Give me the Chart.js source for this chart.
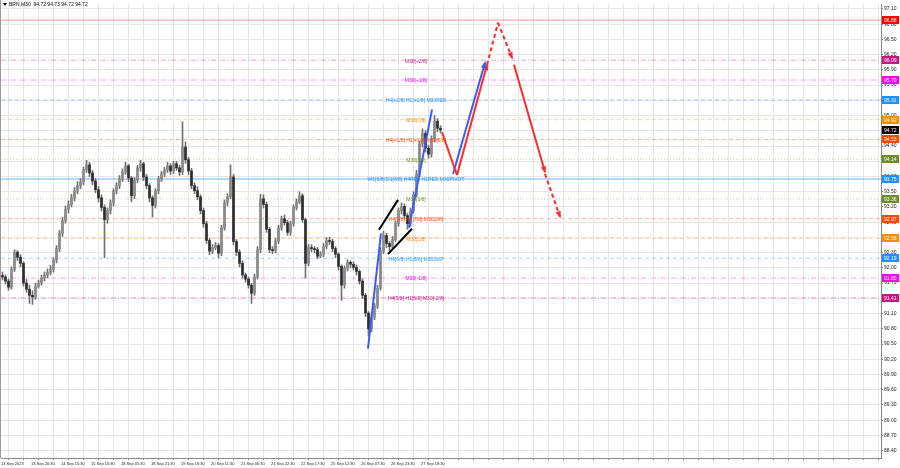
<!DOCTYPE html>
<html><head><meta charset="utf-8">
<script src="https://cdn.jsdelivr.net/npm/chart.js@4.4.0/dist/chart.umd.min.js"></script>
<style>html,body{margin:0;padding:0;background:#fff}canvas{display:block}</style>
</head><body>
<canvas id="c" width="900" height="468"></canvas>
<script>
// === Data (BRN M30, one candle = one slot on the x scale) ===
const opens=[91.85,91.82,91.74,91.62,91.97,92.31,92.21,92.09,91.70,91.58,
 91.46,91.43,91.64,91.70,91.80,91.86,91.91,91.97,92.15,92.38,
 92.68,92.93,93.15,93.25,93.38,93.52,93.62,93.69,93.93,94.03,
 93.87,93.71,93.54,93.38,93.19,92.95,93.13,93.28,93.52,93.62,
 93.75,93.89,94.01,93.77,93.42,93.73,93.97,94.05,93.79,93.62,
 93.38,93.23,93.52,93.75,93.85,93.93,94.01,93.91,94.05,93.97,
 93.89,94.38,94.13,93.91,93.62,93.52,93.40,93.13,92.87,92.54,
 92.33,92.40,92.44,92.29,92.79,93.28,93.40,93.79,92.52,92.31,
 92.09,91.86,91.78,91.66,91.50,91.82,92.36,93.36,93.25,92.76,
 92.36,92.34,92.52,92.79,92.97,92.89,92.70,92.87,93.19,93.30,
 93.42,92.95,92.09,92.40,92.38,92.36,92.23,92.27,92.42,92.54,
 92.52,92.38,92.27,92.03,91.66,91.99,92.11,92.07,92.01,91.93,
 91.74,91.46,91.11,90.80,91.03,91.25,91.60,92.33,92.64,92.48,
 92.42,92.56,92.87,93.13,93.21,93.03,92.87,93.13,93.44,93.85,
 94.44,94.65,94.36,94.24,94.54,94.89,94.75];
const highs=[91.92,91.86,91.78,92.02,92.36,92.34,92.26,92.12,91.78,91.66,
 91.55,91.70,91.76,91.86,91.92,91.98,92.05,92.20,92.44,92.74,
 93.00,93.22,93.32,93.45,93.58,93.70,93.76,93.98,94.12,94.08,
 93.92,93.76,93.60,93.44,93.24,93.18,93.34,93.56,93.68,93.82,
 93.95,94.08,94.04,93.80,93.78,94.02,94.12,94.08,93.84,93.66,
 93.42,93.56,93.80,93.90,93.98,94.08,94.05,94.10,94.10,94.02,
 94.88,94.48,94.18,93.96,93.68,93.60,93.44,93.18,92.92,92.58,
 92.46,92.50,92.48,92.84,93.34,93.46,94.03,93.84,92.56,92.36,
 92.14,91.90,91.82,91.70,91.88,92.42,93.45,93.44,93.30,92.80,
 92.42,92.58,92.84,93.02,93.04,92.94,92.92,93.24,93.36,93.50,
 93.46,92.98,92.46,92.46,92.42,92.40,92.32,92.48,92.60,92.60,
 92.56,92.42,92.30,92.06,92.04,92.16,92.14,92.12,92.06,91.96,
 91.78,91.50,91.14,91.08,91.30,91.66,92.40,92.72,92.68,92.52,
 92.62,92.92,93.18,93.28,93.26,93.08,93.18,93.50,93.92,94.50,
 94.74,94.70,94.42,94.60,95.00,94.94,94.80];
const lows=[91.76,91.68,91.56,91.58,91.93,92.14,92.02,91.64,91.52,91.30,
 91.28,91.38,91.60,91.66,91.74,91.80,91.86,91.92,92.10,92.32,
 92.62,92.88,93.08,93.20,93.32,93.46,93.56,93.64,93.88,93.80,
 93.64,93.48,93.30,93.12,92.20,92.88,93.06,93.22,93.46,93.56,
 93.70,93.84,93.70,93.30,93.36,93.68,93.90,93.72,93.56,93.30,
 93.00,93.18,93.46,93.70,93.80,93.88,93.84,93.86,93.92,93.82,
 93.84,94.06,93.84,93.56,93.46,93.34,93.06,92.80,92.48,92.26,
 92.28,92.36,92.20,92.24,92.74,93.22,93.36,92.46,92.24,92.02,
 91.80,91.72,91.60,91.30,91.46,91.78,92.30,93.18,92.70,92.30,
 92.28,92.30,92.48,92.74,92.84,92.64,92.64,92.82,93.14,93.26,
 92.90,91.80,92.04,92.32,92.30,92.18,92.20,92.22,92.38,92.46,
 92.32,92.20,91.96,91.36,91.60,91.94,92.00,91.96,91.86,91.68,
 91.40,91.04,90.66,90.74,90.98,91.20,91.56,92.28,92.40,92.34,
 92.38,92.52,92.82,93.06,92.96,92.76,92.82,93.08,93.40,93.80,
 94.38,94.28,94.16,94.18,94.48,94.68,94.66];
const closes=[91.82,91.74,91.62,91.97,92.31,92.21,92.09,91.70,91.58,91.46,
 91.43,91.64,91.70,91.80,91.86,91.91,91.97,92.15,92.38,92.68,
 92.93,93.15,93.25,93.38,93.52,93.62,93.69,93.93,94.03,93.87,
 93.71,93.54,93.38,93.19,92.95,93.13,93.28,93.52,93.62,93.75,
 93.89,94.01,93.77,93.42,93.73,93.97,94.05,93.79,93.62,93.38,
 93.23,93.52,93.75,93.85,93.93,94.01,93.91,94.05,93.97,93.89,
 94.38,94.13,93.91,93.62,93.52,93.40,93.13,92.87,92.54,92.33,
 92.40,92.44,92.29,92.79,93.28,93.40,93.79,92.52,92.31,92.09,
 91.86,91.78,91.66,91.50,91.82,92.36,93.36,93.25,92.76,92.36,
 92.34,92.52,92.79,92.97,92.89,92.70,92.87,93.19,93.30,93.42,
 92.95,92.09,92.40,92.38,92.36,92.23,92.27,92.42,92.54,92.52,
 92.38,92.27,92.03,91.66,91.99,92.11,92.07,92.01,91.93,91.74,
 91.46,91.11,90.80,91.03,91.25,91.60,92.33,92.64,92.48,92.42,
 92.56,92.87,93.13,93.21,93.03,92.87,93.13,93.44,93.85,94.44,
 94.65,94.36,94.24,94.54,94.89,94.75,94.72];

const dateLabels=['13 Sep 2023','13 Sep 20:30','14 Sep 15:30','15 Sep 10:30','18 Sep 05:30','18 Sep 21:30','19 Sep 16:30',
 '20 Sep 11:30','21 Sep 06:30','21 Sep 22:30','22 Sep 17:30','25 Sep 12:30','26 Sep 07:30','26 Sep 23:30','27 Sep 18:30'];
const dateTickPos=[0,10,20,30,40,50,60,70,80,90,100,110,120,130,140];
const priceTicks=[88.40,88.70,89.00,89.30,89.60,89.90,90.20,90.50,90.80,91.10,91.40,91.70,92.00,92.30,92.60,92.90,
 93.20,93.50,93.80,94.10,94.40,94.70,95.00,95.30,95.60,95.90,96.20,96.50,96.80,97.10];

// Murrey math levels
const levelPrices=[96.88,96.09,95.70,95.31,94.92,94.53,94.14,93.75,93.36,92.97,92.58,92.19,91.80,91.41];
const levelNames=['','M30[+2/8]','M30[+1/8]','H4[+2/8] H1[+2/8] M30RES','M30[7/8]','H4[+1/8] H1[+1/8] M30[6/8]','M30[5/8]',
 'W1[6/8] D1[6/8] H4RES H1RES M30PIVOT','M30[3/8]','H4[7/8] H1[7/8] M30[2/8]','M30[1/8]','H4[6/8] H1[6/8] M30SUP','M30[-1/8]','H4[5/8] H1[5/8] M30[-2/8]'];
const levelColors=['#ff0000','#c71585','#ff00ff','#1e90ff','#ff8c00','#ff4500','#6b8e23','#1e90ff','#6b8e23','#ff4500','#ff8c00','#1e90ff','#ff00ff','#c71585'];
const levelStyles=['solid','dashdot','dashdot','dash','dash','dash','dot','solid','dot','dash','dash','dash','dashdot','dashdot'];
const lastPrice=94.72;

// drawn wave / forecast segments: [bar, price]
const blueWave1=[[122.33,90.41],[126.67,92.68]];
const blueWave2=[[136,92.79],[143.67,95.12]];
const channelTop=[[126,92.75],[132.33,93.34]];
const channelBot=[[129,92.27],[137,92.77]];
const redDrop=[[147,94.67],[152,93.83]];
const redRise=[[152,93.83],[162,96.00]];
const redRiseExt=[[162,96.00],[165.67,96.83]];
const redTopBack=[[165.67,96.83],[170.33,96.14]];
const redFall=[[171,96.00],[181.33,93.89]];
const redFallExt=[[181.33,93.85],[186.33,93.01]];
const blueRise=[[150.67,93.85],[161.33,96.04]];

const XMAX=880/3, YMIN=88.255, YMAX=97.198, LABEL_X=138.33;
const FONT='"Liberation Sans", Arial, sans-serif';

// === Chart ===
const pts=a=>a.map(p=>({x:p[0],y:p[1]}));
function seg(a,color,dash,arrow){
  return {type:'line',data:pts(a),borderColor:color,borderWidth:2,borderDash:dash||[],pointRadius:0,arrow:!!arrow,order:0};
}
const dashOf={solid:[],dash:[4,3],dot:[1,2],dashdot:[5,2,1,2]};
const levelSets=levelPrices.map((p,i)=>({
  type:'line',data:[{x:0,y:p},{x:XMAX,y:p}],
  borderColor:i===0?'rgba(240,120,120,0.75)':levelColors[i]+(i===7?'55':'60'),
  borderWidth:i===7?2:1,borderDash:dashOf[levelStyles[i]],pointRadius:0,order:5
}));

const wickData=closes.map((c,i)=>({x:i+0.5,y:[lows[i],highs[i]]}));
const bodyData=closes.map((c,i)=>({x:i+0.5,y:[opens[i],c]}));

const overlay={
  id:'overlay',
  afterDatasetsDraw(chart){
    const {ctx,scales:{x,y}}=chart;
    ctx.save();
    // arrow heads
    chart.data.datasets.forEach((ds,di)=>{
      if(!ds.arrow) return;
      const m=chart.getDatasetMeta(di).data; const a=m[m.length-2], b=m[m.length-1];
      const ang=Math.atan2(b.y-a.y,b.x-a.x), s=6;
      ctx.fillStyle=ds.borderColor; ctx.beginPath();
      ctx.moveTo(b.x+Math.cos(ang)*2,b.y+Math.sin(ang)*2);
      ctx.lineTo(b.x-Math.cos(ang-0.45)*s,b.y-Math.sin(ang-0.45)*s);
      ctx.lineTo(b.x-Math.cos(ang+0.45)*s,b.y-Math.sin(ang+0.45)*s);
      ctx.closePath(); ctx.fill();
    });
    // level names
    ctx.font='5px '+FONT; ctx.textAlign='center'; ctx.textBaseline='middle';
    levelPrices.forEach((p,i)=>{
      if(!levelNames[i]) return;
      ctx.fillStyle=levelColors[i];
      ctx.fillText(levelNames[i],x.getPixelForValue(LABEL_X),y.getPixelForValue(p)+1);
    });
    ctx.restore();
  },
  afterDraw(chart){
    const {ctx,chartArea:ca,scales:{y}}=chart;
    ctx.save();
    ctx.font='5px '+FONT; ctx.textBaseline='middle'; ctx.textAlign='left';
    const box=(p,col)=>{
      const py=Math.round(y.getPixelForValue(p));
      ctx.fillStyle=col; ctx.fillRect(ca.right+1,py-4,17,8);
      ctx.fillStyle='#fff'; ctx.fillText(p.toFixed(2),ca.right+3,py+0.5);
    };
    levelPrices.forEach((p,i)=>box(p,levelColors[i]));
    box(lastPrice,'#000');
    // header
    ctx.fillStyle='#000'; ctx.beginPath(); ctx.moveTo(3,3); ctx.lineTo(7,3); ctx.lineTo(5,6); ctx.fill();
    ctx.fillText('BRN,M30  94.72 94.73 94.72 94.72',9,5);
    // left frame
    ctx.fillStyle='#9a9a9a'; ctx.fillRect(0,0,1,ca.bottom);
    ctx.restore();
  }
};

new Chart(document.getElementById('c'),{
  type:'bar',
  data:{datasets:[
    {data:wickData,backgroundColor:'#707070',barThickness:1,grouped:false,order:2},
    {data:bodyData,backgroundColor:bodyData.map(d=>d.y[1]>=d.y[0]?'#8a8a8a':'#2e2e2e'),barThickness:2,minBarLength:1,grouped:false,order:1},
    ...levelSets,
    seg(blueWave1,'#3a5cff'),
    seg(blueWave2,'#3a5cff'),
    seg(channelTop,'#000000'),
    seg(channelBot,'#000000'),
    seg(redDrop,'#ff2a2a'),
    seg(redRise,'#ff2a2a',null,true),
    seg(redRiseExt,'#ff2a2a',[4,3]),
    seg(redTopBack,'#ff2a2a',[4,3],true),
    seg(redFall,'#ff2a2a',null,true),
    seg(redFallExt,'#ff2a2a',[4,3],true),
    seg(blueRise,'#3a5cff',null,true)
  ]},
  options:{
    responsive:false,animation:false,devicePixelRatio:1,
    layout:{padding:{left:1,top:1,right:0,bottom:0}},
    plugins:{legend:{display:false},tooltip:{enabled:false}},
    scales:{
      x:{type:'linear',min:0,max:XMAX,offset:false,
        afterBuildTicks:s=>{const t=[];for(let v=0;v<=XMAX;v+=5)t.push({value:v});s.ticks=t;},
        afterFit:s=>{s.height=10;},
        grid:{color:'#e6e6e6',tickLength:2,tickColor:'#888'},
        border:{color:'#8a8a8a'},
        ticks:{autoSkip:false,maxRotation:0,align:'start',padding:1,color:'#222',font:{size:4,family:FONT},
          callback:v=>{const k=dateTickPos.indexOf(v);return k<0?'':dateLabels[k];}}
      },
      y:{position:'right',min:YMIN,max:YMAX,
        afterBuildTicks:s=>{s.ticks=priceTicks.map(v=>({value:v}));},
        afterFit:s=>{s.width=19;},
        grid:{color:'#e6e6e6',tickLength:2,tickColor:'#888'},
        border:{color:'#8a8a8a'},
        ticks:{padding:1,color:'#222',font:{size:5,family:FONT},callback:v=>v.toFixed(2)}
      }
    }
  },
  plugins:[overlay]
});
</script>
</body></html>
